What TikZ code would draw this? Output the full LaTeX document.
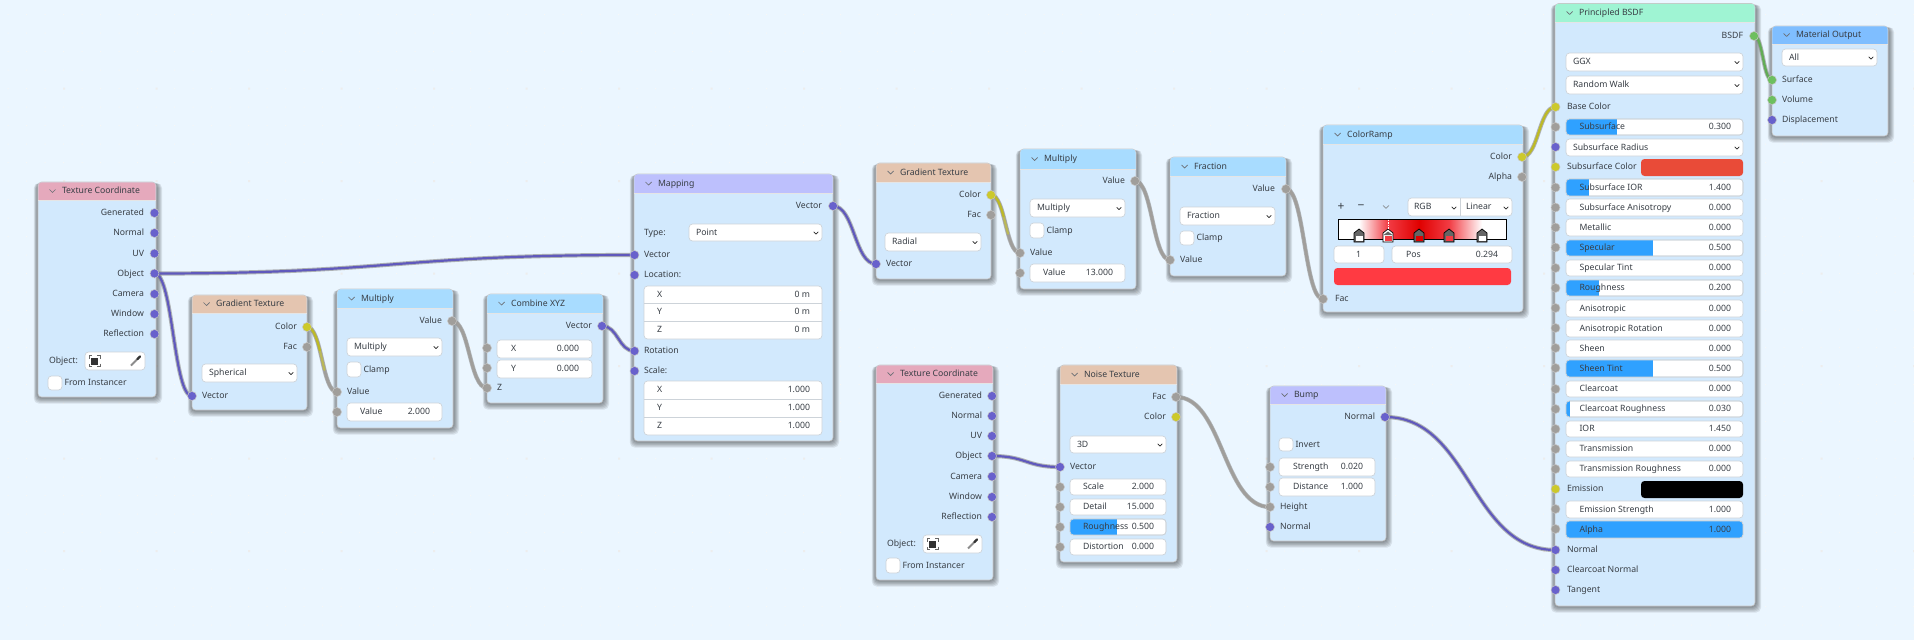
\documentclass[tikz,border=0pt]{standalone}
\usepackage{fontspec}
\setmainfont{Noto Sans}
\usetikzlibrary{calc}
\definecolor{bgc}{HTML}{EBF6FF}
\definecolor{bodyc}{HTML}{D2E9FD}
\definecolor{hdrInput}{HTML}{E5A9BC}
\definecolor{hdrTex}{HTML}{E4C5B0}
\definecolor{hdrConv}{HTML}{A8DCFF}
\definecolor{hdrVec}{HTML}{BDC0FD}
\definecolor{hdrShader}{HTML}{9FF4D3}
\definecolor{hdrOut}{HTML}{7FBEFF}
\definecolor{sblue}{HTML}{6861CC}
\definecolor{sgray}{HTML}{A09E9B}
\definecolor{syellow}{HTML}{CCC92B}
\definecolor{sgreen}{HTML}{6DBF5F}
\definecolor{txtc}{HTML}{383E45}
\definecolor{fillb}{HTML}{2FA1FF}
\definecolor{fieldb}{HTML}{CDD3D9}
\definecolor{swred}{HTML}{E94B38}
\definecolor{swramp}{HTML}{FF3A42}
\definecolor{rampA}{HTML}{F23C44}
\definecolor{rampB}{HTML}{E00000}
\pgfdeclarelayer{bodies}\pgfdeclarelayer{wires}\pgfsetlayers{bodies,wires,main}
\newcount\tnc
\tikzset{
  txt/.style={inner sep=0pt,outer sep=0pt,text=txtc,font=\fontsize{8.7}{10}\selectfont},
  sockn/.style={circle,draw=black!22,line width=.5pt,minimum size=9pt,inner sep=0pt},
  field/.style={draw=fieldb,fill=white,line width=.7pt,rounded corners=3.5pt,inner sep=0pt,outer sep=0pt},
  nodebody/.style={fill=bodyc,draw=black!22,line width=.6pt,rounded corners=3.5pt,inner sep=0pt,outer sep=0pt},
  chevron/.style={line width=.7pt,line cap=round,line join=round},
  wireouter/.style={draw=black!48,line width=4.2pt,line cap=round,opacity=.6},
  wblue/.style={draw=sblue!92!black,line width=2.2pt,line cap=round},
  wgray/.style={draw=sgray,line width=2.8pt,line cap=round},
  wyellow/.style={draw=syellow!92!black,line width=2.4pt,line cap=round},
  wgreen/.style={draw=sgreen!90!black,line width=2.4pt,line cap=round},
}
\newcommand\lblR[3]{\global\advance\tnc 1 \node[txt,anchor=mid east] (t\the\tnc) at (#1,#2) {#3};}
\newcommand\lblL[3]{\global\advance\tnc 1 \node[txt,anchor=mid west] (t\the\tnc) at (#1,#2) {#3};}
\newcommand\lblC[3]{\global\advance\tnc 1 \node[txt,anchor=center,font=\fontsize{12}{12}\selectfont] (t\the\tnc) at (#1,#2) {#3};}
\newcommand\chev[4]{\draw[chevron,draw=#4] (#1-#3,#2-#3/2) -- (#1,#2+#3/2) -- (#1+#3,#2-#3/2);}
% node: name x1 y1 x2 y2 headerbottom colour title
\newcommand\blnode[8]{%
  \pgfmathsetmacro\nw{#4-#2}\pgfmathsetmacro\nh{#5-#3}%
  \begin{pgfonlayer}{bodies}
    \foreach \s in {1,...,6}{
      \fill[black,opacity=.085,rounded corners=5pt] (#2-\s*.7,#3+1) rectangle (#4+\s,#5+\s*1.1);
    }
    \node[nodebody,anchor=north west,minimum width=\nw pt,minimum height=\nh pt] (#1) at (#2,#3) {};
    \fill[#7] (#2+.3,#6) [rounded corners=3.5pt] -- (#2+.3,#3+.3) -- (#4-.3,#3+.3) [sharp corners] -- (#4-.3,#6) -- cycle;
    \draw[black!10,line width=.5pt] (#2+.3,#6) -- (#4-.3,#6);
  \end{pgfonlayer}
  \pgfmathsetmacro\hy{(#3+#6)/2}%
  \chev{#2+14.5}{\hy}{3}{txtc!75}
  \lblL{#2+24}{\hy}{#8}
}
\newcommand\sock[4]{\node[sockn,fill=#2] (#1) at (#3,#4) {};}
\newcommand\asock[3]{\global\advance\tnc 1 \node[sockn,fill=#1] (t\the\tnc) at (#2,#3) {};}
\newcommand\fld[4]{\pgfmathsetmacro\fw{#3-#1}\pgfmathsetmacro\fh{#4-#2}\global\advance\tnc 1
  \node[field,anchor=north west,minimum width=\fw pt,minimum height=\fh pt] (t\the\tnc) at (#1,#2) {};}
% dropdown x1 y1 x2 y2 text
\newcommand\drop[5]{\fld{#1}{#2}{#3}{#4}\pgfmathsetmacro\my{(#2+#4)/2}\lblL{#1+7}{\my}{#5}\chev{#3-6}{\my+.5}{2.2}{black!85}}
% numeric field x1 y1 x2 y2 fillx label labelx value valuex
\newcommand\numf[9]{%
  \fld{#1}{#2}{#3}{#4}%
  \ifnum#5>0
    \begin{scope}
      \clip[rounded corners=3.5pt] (#1,#2) rectangle (#3,#4);
      \fill[fillb] (#1,#2) rectangle (#5,#4);
    \end{scope}
    \draw[fieldb,line width=.7pt,rounded corners=3.5pt] (#1,#2) rectangle (#3,#4);
  \fi
  \pgfmathsetmacro\my{(#2+#4)/2}\lblL{#7}{\my}{#6}\lblR{#9}{\my}{#8}}
\newcommand\checkb[4]{\pgfmathsetmacro\my{(#2+#3)/2}\fld{#1}{#2}{#1+14}{#3}\lblL{#1+16.5}{\my}{#4}}
% object picker: label x, box x1, x2, y1, y2
\newcommand\objpick[5]{\pgfmathsetmacro\my{(#4+#5)/2}\lblL{#1}{\my}{Object:}\fld{#2}{#4}{#3}{#5}
  \fill[black!80] (#2+6,\my-3.5) rectangle (#2+13,\my+3.5);
  \draw[black!60,line width=.6pt] (#2+4,\my-2.5) -- (#2+4,\my-5.5) -- (#2+7,\my-5.5) (#2+12,\my-5.5) -- (#2+15,\my-5.5) -- (#2+15,\my-2.5)
    (#2+15,\my+2.5) -- (#2+15,\my+5.5) -- (#2+12,\my+5.5) (#2+7,\my+5.5) -- (#2+4,\my+5.5) -- (#2+4,\my+2.5);
  \draw[black!45,line width=1.8pt] (#3-14,\my+4.5) -- (#3-7,\my-2.5);
  \draw[black!80,line width=2.2pt,line cap=round] (#3-7.5,\my-2) -- (#3-5,\my-4.5);}
\newcommand\wire[4]{% style, from, to, extra overlays
  \begin{pgfonlayer}{wires}
  \draw[wireouter] let \p1=(#2.center),\p2=(#3.center),\n1={0.5*(\x2-\x1)} in (\p1) .. controls (\x1+\n1,\y1) and (\x2-\n1,\y2) .. (\p2);
  \draw[#1] let \p1=(#2.center),\p2=(#3.center),\n1={0.5*(\x2-\x1)} in (\p1) .. controls (\x1+\n1,\y1) and (\x2-\n1,\y2) .. (\p2);
  #4
  \end{pgfonlayer}}
\newcommand\overwire[3]{\draw[#1] let \p1=(#2.center),\p2=(#3.center),\n1={0.5*(\x2-\x1)} in (\p1) .. controls (\x1+\n1,\y1) and (\x2-\n1,\y2) .. (\p2);}
% principled row
\newcommand\prow[6]{\asock{sgray}{1555.5}{#1}\numf{1566}{#2}{1743}{#3}{#4}{#5}{1579.5}{#6}{1731}}
\newcommand\rampstop[3]{% x, top colour, inner colour
  \draw[black,line width=.7pt,fill=#2] (#1-5,242) -- (#1-5,233) -- (#1,229) -- (#1+5,233) -- (#1+5,242) -- cycle;
  \fill[#3] (#1-3.5,236) rectangle (#1+3.5,240.5);}
\begin{document}
\begin{tikzpicture}[x=1pt,y=-1pt]
\useasboundingbox (0,0) rectangle (1914,640);
\begin{pgfonlayer}{bodies}
\fill[bgc] (0,0) rectangle (1914,640);
\fill[black!3] \foreach \i in {0,...,103}{\foreach \j in {0,...,34}{ (7.5+18.5*\i,14+18.5*\j) rectangle +(1.2,1.2) }};
\fill[black!7] \foreach \i in {0,...,20}{\foreach \j in {0,...,6}{ (63+92.5*\i,87.5+92.5*\j) rectangle +(2.2,2.2) }};
\end{pgfonlayer}

% ---- Texture Coordinate A
\blnode{ta}{38}{182}{156}{397}{200}{hdrInput}{Texture Coordinate}
\lblR{144}{213}{Generated}\lblR{144}{233}{Normal}\lblR{144}{253.5}{UV}\lblR{144}{273.5}{Object}\lblR{144}{294}{Camera}\lblR{144}{314}{Window}\lblR{144}{334}{Reflection}
\asock{sblue}{154.5}{213}\asock{sblue}{154.5}{233}\asock{sblue}{154.5}{253.5}\sock{taObj}{sblue}{154.5}{273.5}\asock{sblue}{154.5}{294}\asock{sblue}{154.5}{314}\asock{sblue}{154.5}{334}
\objpick{49}{85}{145}{352}{370}
\checkb{48}{376}{390}{From Instancer}

% ---- Gradient Texture A
\blnode{ga}{192}{295}{307}{410}{313}{hdrTex}{Gradient Texture}
\lblR{297}{327}{Color}\lblR{297}{347}{Fac}
\sock{gaCol}{syellow}{307}{327}\asock{sgray}{307}{347}
\drop{202}{364}{297}{382}{Spherical}
\sock{gaVec}{sblue}{192}{396}\lblL{202}{396}{Vector}

% ---- Multiply A
\blnode{ma}{337}{289}{453}{428}{308}{hdrConv}{Multiply}
\lblR{442}{321}{Value}\sock{maOut}{sgray}{452}{321}
\drop{347}{338}{442}{356}{Multiply}
\checkb{347}{362}{377}{Clamp}
\sock{maIn}{sgray}{337}{392}\lblL{347}{392}{Value}
\asock{sgray}{337}{412}\numf{347}{403}{442}{421}{0}{Value}{360}{2.000}{430}

% ---- Combine XYZ
\blnode{cx}{487}{294}{603}{403}{313}{hdrConv}{Combine XYZ}
\lblR{592}{326}{Vector}\sock{cxOut}{sblue}{602}{326}
\asock{sgray}{487}{348}\numf{497}{340}{592}{358}{0}{X}{511}{0.000}{579}
\asock{sgray}{487}{368}\numf{497}{360}{592}{378}{0}{Y}{511}{0.000}{579}
\sock{cxZ}{sgray}{487}{388}\lblL{497}{388}{Z}

% ---- Mapping
\blnode{mp}{634}{174}{833}{441}{193}{hdrVec}{Mapping}
\lblR{822}{206}{Vector}\sock{mpOut}{sblue}{833}{206}
\lblL{644}{232.5}{Type:}\drop{689}{224}{822}{241}{Point}
\sock{mpVec}{sblue}{634.5}{255}\lblL{644}{255}{Vector}
\asock{sblue}{634.5}{275}\lblL{644}{275}{Location:}
\fld{644}{286}{822}{339}
\draw[fieldb,line width=.7pt] (644,303) -- (822,303) (644,321) -- (822,321);
\lblL{657}{294.5}{X}\lblR{810}{294.5}{0 m}\lblL{657}{312}{Y}\lblR{810}{312}{0 m}\lblL{657}{330}{Z}\lblR{810}{330}{0 m}
\sock{mpRot}{sblue}{634.5}{351}\lblL{644}{351}{Rotation}
\asock{sblue}{634.5}{371}\lblL{644}{371}{Scale:}
\fld{644}{381}{822}{435}
\draw[fieldb,line width=.7pt] (644,399) -- (822,399) (644,417) -- (822,417);
\lblL{657}{389.5}{X}\lblR{810}{389.5}{1.000}\lblL{657}{407.5}{Y}\lblR{810}{407.5}{1.000}\lblL{657}{426}{Z}\lblR{810}{426}{1.000}

% ---- Gradient Texture B
\blnode{gb}{876}{163}{991}{279}{182}{hdrTex}{Gradient Texture}
\lblR{981}{195}{Color}\lblR{981}{215}{Fac}
\sock{gbCol}{syellow}{991}{195}\asock{sgray}{991}{215}
\drop{885}{233}{981}{251}{Radial}
\sock{gbVec}{sblue}{876}{264}\lblL{886}{264}{Vector}

% ---- Multiply B
\blnode{mb}{1020}{149}{1136}{289}{169}{hdrConv}{Multiply}
\lblR{1125}{181}{Value}\sock{mbOut}{sgray}{1135}{181}
\drop{1030}{199}{1125}{217}{Multiply}
\checkb{1030}{223}{238}{Clamp}
\sock{mbIn}{sgray}{1020}{253}\lblL{1030}{253}{Value}
\asock{sgray}{1020}{273}\numf{1030}{264}{1125}{282}{0}{Value}{1043}{13.000}{1113}

% ---- Fraction
\blnode{fr}{1170}{157}{1286}{276}{176}{hdrConv}{Fraction}
\lblR{1275}{189}{Value}\sock{frOut}{sgray}{1286}{189}
\drop{1180}{207}{1275}{225}{Fraction}
\checkb{1180}{231}{245}{Clamp}
\sock{frIn}{sgray}{1170}{260}\lblL{1180}{260}{Value}

% ---- ColorRamp
\blnode{cr}{1323}{125}{1523}{312}{144}{hdrConv}{ColorRamp}
\lblR{1512}{157}{Color}\lblR{1512}{177}{Alpha}
\sock{crCol}{syellow}{1522}{157}\asock{sgray}{1522}{177}
\lblC{1341}{207}{+}\lblC{1361}{207}{−}\chev{1386}{207}{2.8}{txtc!60}
\fld{1408}{198}{1512}{216}\draw[fieldb,line width=.7pt] (1460,198) -- (1460,216);
\lblL{1414}{206.5}{RGB}\chev{1454}{208}{2.2}{black!85}\lblL{1466}{206.5}{Linear}\chev{1506}{208}{2.2}{black!85}
\fill[white] (1338,219) rectangle (1506,239);
\shade[left color=white,right color=rampA] (1359,219) rectangle (1388,239);
\shade[left color=rampA,right color=rampB] (1388,219) rectangle (1419,239);
\shade[left color=rampB,right color=rampA] (1419,219) rectangle (1449,239);
\shade[left color=rampA,right color=white] (1449,219) rectangle (1482,239);
\draw[black,line width=.8pt] (1338,219) rectangle (1506,239);
\rampstop{1359}{black!60}{white}
\rampstop{1388}{white}{rampA}
\rampstop{1419}{black!60}{rampB}
\rampstop{1449}{black!60}{rampA}
\rampstop{1482}{black!60}{white}
\fill[black!60] (1388,231.5) -- (1383.5,235) -- (1392.5,235) -- cycle;
\draw[white,line width=.6pt,dash pattern=on 1.5pt off 1pt] (1388,219.5) -- (1388,229);
\numf{1334}{246}{1384}{263}{0}{1}{1356}{}{1380}
\numf{1392}{246}{1512}{263}{0}{Pos}{1406}{0.294}{1498}
\fill[swramp,rounded corners=3.5pt] (1334,268) rectangle (1511,285);
\sock{crFac}{sgray}{1323}{299}\lblL{1335}{299}{Fac}

% ---- Texture Coordinate B
\blnode{tb}{876}{365}{993}{580}{383}{hdrInput}{Texture Coordinate}
\lblR{982}{396}{Generated}\lblR{982}{416}{Normal}\lblR{982}{436}{UV}\lblR{982}{456}{Object}\lblR{982}{476.5}{Camera}\lblR{982}{497}{Window}\lblR{982}{517}{Reflection}
\asock{sblue}{992}{396}\asock{sblue}{992}{416}\asock{sblue}{992}{436}\sock{tbObj}{sblue}{992}{456}\asock{sblue}{992}{476.5}\asock{sblue}{992}{497}\asock{sblue}{992}{517}
\objpick{887}{923}{982}{535}{553}
\checkb{886}{558}{573}{From Instancer}

% ---- Noise Texture
\blnode{nt}{1060}{365}{1177}{562}{384}{hdrTex}{Noise Texture}
\lblR{1166}{397}{Fac}\lblR{1166}{417}{Color}
\sock{ntFac}{sgray}{1176}{397}\asock{syellow}{1176}{417}
\drop{1070}{436}{1166}{453}{3D}
\sock{ntVec}{sblue}{1060}{467}\lblL{1070}{467}{Vector}
\asock{sgray}{1060}{487}\numf{1070}{479}{1166}{495}{0}{Scale}{1083}{2.000}{1154}
\asock{sgray}{1060}{507}\numf{1070}{499}{1166}{515}{0}{Detail}{1083}{15.000}{1154}
\asock{sgray}{1060}{527}\numf{1070}{519}{1166}{535}{1117}{Roughness}{1083}{0.500}{1154}
\asock{sgray}{1060}{547}\numf{1070}{539}{1166}{555}{0}{Distortion}{1083}{0.000}{1154}

% ---- Bump
\blnode{bp}{1270}{386}{1386}{541}{404}{hdrVec}{Bump}
\lblR{1375}{417}{Normal}\sock{bpOut}{sblue}{1385}{417}
\checkb{1279}{438}{451}{Invert}
\asock{sgray}{1270}{467}\numf{1279}{458}{1375}{476}{0}{Strength}{1293}{0.020}{1363}
\asock{sgray}{1270}{487}\numf{1279}{478}{1375}{496}{0}{Distance}{1293}{1.000}{1363}
\sock{bpH}{sgray}{1270}{507}\lblL{1280}{507}{Height}
\asock{sblue}{1270}{527}\lblL{1280}{527}{Normal}

% ---- Principled BSDF
\blnode{pb}{1555}{3.5}{1755}{606}{22.5}{hdrShader}{Principled BSDF}
\lblR{1743}{36}{BSDF}\sock{pbOut}{sgreen}{1754}{36}
\drop{1566}{53}{1743}{71}{GGX}
\drop{1566}{76}{1743}{94}{Random Walk}
\sock{pbBase}{syellow}{1555.5}{107}\lblL{1567}{107}{Base Color}
\prow{127}{119}{135}{1617}{Subsurface}{0.300}
\asock{sblue}{1555.5}{147}\drop{1566}{139}{1743}{156}{Subsurface Radius}
\asock{syellow}{1555.5}{167}\lblL{1567}{167}{Subsurface Color}
\fill[swred,rounded corners=3.5pt] (1641,159) rectangle (1743,176);
\prow{187.5}{179}{196}{1589}{Subsurface IOR}{1.400}
\prow{207.5}{199}{216}{0}{Subsurface Anisotropy}{0.000}
\prow{227.5}{219}{236}{0}{Metallic}{0.000}
\prow{247.5}{240}{256}{1653}{Specular}{0.500}
\prow{268}{260}{276}{0}{Specular Tint}{0.000}
\prow{288}{280}{296}{1599}{Roughness}{0.200}
\prow{308}{300}{317}{0}{Anisotropic}{0.000}
\prow{328}{320}{337}{0}{Anisotropic Rotation}{0.000}
\prow{348}{340}{357}{0}{Sheen}{0.000}
\prow{368}{360}{377}{1653}{Sheen Tint}{0.500}
\prow{389}{381}{397}{0}{Clearcoat}{0.000}
\prow{409}{401}{417}{1570}{Clearcoat Roughness}{0.030}
\prow{429}{421}{437}{0}{IOR}{1.450}
\prow{449}{441}{457}{0}{Transmission}{0.000}
\prow{469}{461}{477}{0}{Transmission Roughness}{0.000}
\asock{syellow}{1555.5}{489}\lblL{1567}{489}{Emission}
\fill[black,rounded corners=3.5pt] (1641,481) rectangle (1743,498);
\prow{509}{501}{518}{0}{Emission Strength}{1.000}
\prow{529}{521}{538}{1743}{Alpha}{1.000}
\sock{pbNorm}{sblue}{1555.5}{550}\lblL{1567}{550}{Normal}
\asock{sblue}{1555.5}{570}\lblL{1567}{570}{Clearcoat Normal}
\asock{sblue}{1555.5}{590}\lblL{1567}{590}{Tangent}

% ---- Material Output
\blnode{mo}{1772}{26}{1888}{136}{44}{hdrOut}{Material Output}
\drop{1782}{49}{1877}{66}{All}
\sock{moSurf}{sgreen}{1772}{80}\lblL{1782}{80}{Surface}
\asock{sgreen}{1772}{100}\lblL{1782}{100}{Volume}
\asock{sblue}{1772}{120}\lblL{1782}{120}{Displacement}

% ---- Wires
\wire{wblue}{taObj}{gaVec}{}
\wire{wblue}{taObj}{mpVec}{}
\wire{wgray}{gaCol}{maIn}{\overwire{wgray,draw=syellow!60!sgray,line width=2.2pt,dash pattern=on 48pt off 500pt}{gaCol}{maIn}\overwire{wyellow,line width=2.2pt,dash pattern=on 28pt off 500pt}{gaCol}{maIn}}
\wire{wgray}{maOut}{cxZ}{}
\wire{wblue}{cxOut}{mpRot}{}
\wire{wblue}{mpOut}{gbVec}{}
\wire{wgray}{gbCol}{mbIn}{\overwire{wgray,draw=syellow!60!sgray,line width=2.2pt,dash pattern=on 44pt off 500pt}{gbCol}{mbIn}\overwire{wyellow,line width=2.2pt,dash pattern=on 26pt off 500pt}{gbCol}{mbIn}}
\wire{wgray}{mbOut}{frIn}{}
\wire{wgray}{frOut}{crFac}{}
\wire{wyellow}{crCol}{pbBase}{}
\wire{wgreen}{pbOut}{moSurf}{}
\wire{wblue}{tbObj}{ntVec}{}
\wire{wgray}{ntFac}{bpH}{}
\wire{wblue}{bpOut}{pbNorm}{}
\end{tikzpicture}
\end{document}
